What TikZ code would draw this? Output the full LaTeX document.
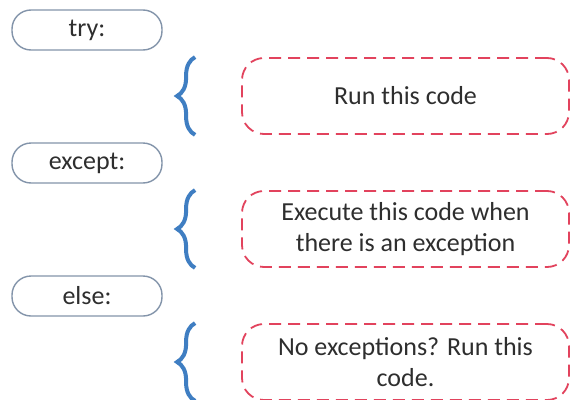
\documentclass[tikz,border=0pt]{standalone}
\usepackage{fontspec}
\setmainfont{Carlito}
\usetikzlibrary{decorations.pathreplacing}
\definecolor{pillline}{HTML}{8394AA}
\definecolor{bracecol}{HTML}{3F7EC2}
\definecolor{dashred}{HTML}{E2435D}
\definecolor{txtgray}{HTML}{2E2E2E}
\tikzset{
  keyword/.style={draw=pillline,line width=1.4pt,fill=white,rounded corners=19pt,
    minimum width=150pt,minimum height=40pt,inner sep=0pt,text=txtgray},
  codebox/.style={draw=dashred,line width=1.8pt,dash pattern=on 12pt off 7pt,
    rounded corners=22pt,minimum width=327pt,minimum height=76pt,inner sep=0pt,
    align=center,text=txtgray},
  curly/.style={draw=bracecol,line width=4pt,decorate,
    decoration={brace,amplitude=18pt,aspect=0.5}}
}
\begin{document}
\begin{tikzpicture}[x=1pt,y=-1pt,font=\fontsize{26}{31}\selectfont]
\useasboundingbox[fill=white] (0,0) rectangle (570,399);

% keyword pills and the code blocks they guard
\foreach \i/\kw/\body in {0/try:/{Run this code},
  1/except:/{Execute this code when\\there is an exception},
  2/else:/{No exceptions? Run this\\code.}}
{
  \node[keyword] (key\i) at (87,30+133*\i) {\kw};
  \node[codebox] (block\i) at (405.5,96+133*\i) {\body};
  % brace in front of each block
  \draw[curly] ([xshift=-46pt]block\i.south west) -- ([xshift=-46pt]block\i.north west);
}

\end{tikzpicture}
\end{document}
